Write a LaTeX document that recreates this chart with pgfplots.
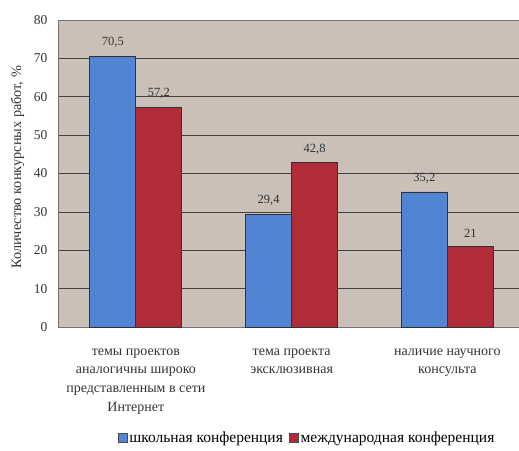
\documentclass[border=0pt]{standalone}
\usepackage{pgfplots}
\pgfplotsset{compat=1.18}
\usepackage{fontspec}
\setmainfont{Liberation Serif}
\definecolor{plotbg}{RGB}{203,192,184}
\definecolor{schoolblue}{RGB}{82,132,212}
\definecolor{intred}{RGB}{176,44,56}
\begin{document}
\begin{tikzpicture}
\useasboundingbox (0,0) rectangle (519pt,450pt);
\begin{axis}[
    at={(58pt,123pt)}, anchor=south west,
    scale only axis, width=461pt, height=307pt,
    ybar=0pt, bar width=46pt,
    xmin=-0.5, xmax=2.46,
    ymin=0, ymax=80, ytick={0,10,...,80},
    xtick={0,1,2},
    xticklabels={{темы проектов\\аналогичны широко\\представленным в сети\\Интернет},
                 {тема проекта\\эксклюзивная},
                 {наличие научного\\консульта}},
    xticklabel style={align=center, font=\fontsize{14}{18.7}\selectfont, color=black!80, yshift=-18pt},
    yticklabel style={font=\fontsize{13.5}{15}\selectfont, color=black!80, xshift=-7pt},
    /pgf/number format/assume math mode=true,
    major tick length=0pt,
    axis background/.style={fill=plotbg},
    ymajorgrids, grid style={black!75, line width=0.6pt},
    axis line style={black!55, line width=0.8pt},
    ylabel={Количество конкурсных работ, \%},
    ylabel style={at={(axis description cs:-0.088,0.52)}, anchor=center,
        font=\fontsize{14.3}{16}\selectfont, color=black!80},
    nodes near coords,
    point meta=explicit symbolic,
    every node near coord/.append style={font=\fontsize{12.5}{14}\selectfont, color=black!80, yshift=5pt},
    legend style={at={(axis description cs:0.54,-0.36)}, anchor=center,
        draw=none, fill=none, legend columns=2,
        font=\fontsize{15.5}{17}\selectfont,
        /tikz/every even column/.append style={column sep=4pt}},
    legend image code/.code={\draw[#1, draw=black!70] (0pt,-4.5pt) rectangle (9pt,4.5pt);},
]
\addplot[fill=schoolblue, draw=black!80, line width=0.8pt] coordinates {
    (0,70.5) [70,5]
    (1,29.4) [29,4]
    (2,35.2) [35,2]
};
\addlegendentry{школьная конференция}
\addplot[fill=intred, draw=black!80, line width=0.8pt] coordinates {
    (0,57.2) [57,2]
    (1,42.8) [42,8]
    (2,21) [21]
};
\addlegendentry{международная конференция}
\end{axis}
\end{tikzpicture}
\end{document}
